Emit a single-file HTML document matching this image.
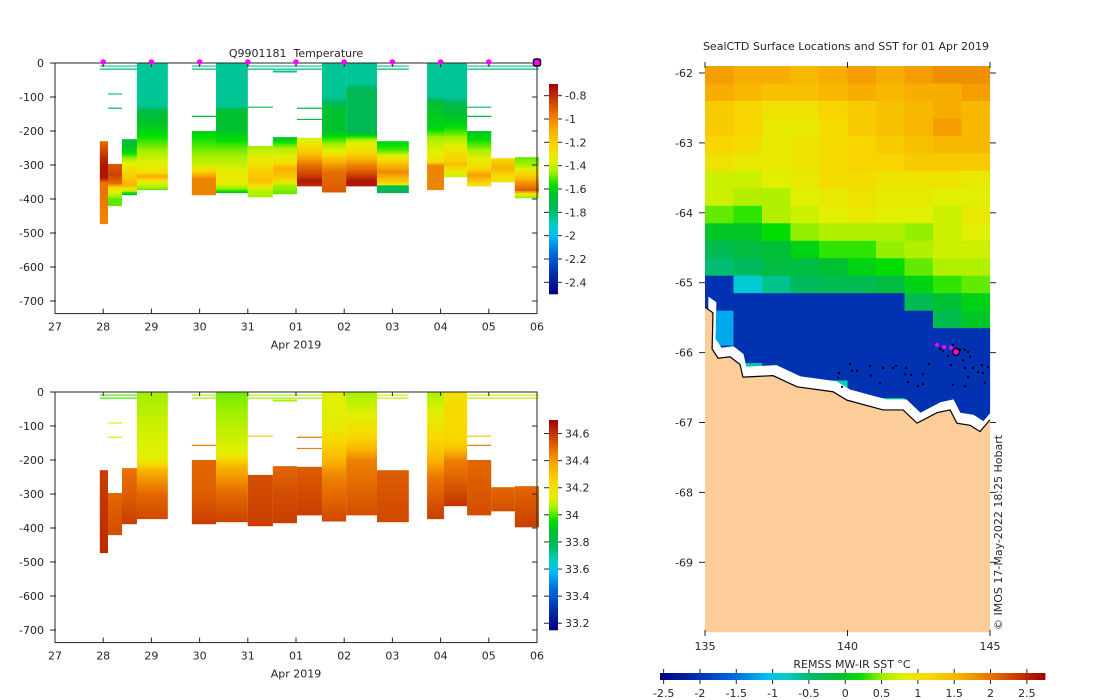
<!DOCTYPE html>
<html><head><meta charset="utf-8"><style>
body{margin:0;background:#fff;}
svg{display:block;font-family:"DejaVu Sans","Liberation Sans",sans-serif;}
text{fill:#262626;font-size:11px;}
</style></head><body>
<svg id="fig" width="1100" height="700" viewBox="0 0 1100 700" xmlns="http://www.w3.org/2000/svg"></svg>
<script>
// ---------- data ----------
const dayLabels=["27","28","29","30","31","01","02","03","04","05","06"];
const depthTicks=[0,100,200,300,400,500,600,700];
const tempTicks=[-0.8,-1,-1.2,-1.4,-1.6,-1.8,-2,-2.2,-2.4];
const salTicks=[34.6,34.4,34.2,34,33.8,33.6,33.4,33.2];
const sstTicks=[-2.5,-2,-1.5,-1,-0.5,0,0.5,1,1.5,2,2.5];
const profStart=[0.93,1.10,1.39,1.70,2.84,3.34,4.00,4.52,5.02,5.54,6.04,6.68,7.72,8.07,8.55,9.05,9.54];
const profEnd=[1.10,1.39,1.70,2.34,3.34,4.00,4.52,5.02,5.54,6.04,6.68,7.34,8.07,8.55,9.05,9.54,10.04];
const profTemp=[
[[230,-0.95],[260,-0.85],[300,-0.75],[340,-0.75],[350,-0.95],[473,-1.0]],
[[297,-0.9],[330,-0.85],[355,-0.95],[370,-1.3],[400,-1.5],[420,-1.5]],
[[224,-1.7],[260,-1.6],[290,-1.4],[320,-1.25],[360,-1.1],[380,-1.5],[388,-1.7]],
[[0,-1.85],[130,-1.85],[140,-1.7],[200,-1.6],[240,-1.5],[280,-1.4],[320,-1.3],[335,-1.05],[345,-1.3],[373,-1.5]],
[[200,-1.6],[250,-1.5],[300,-1.4],[320,-1.2],[340,-1.0],[388,-1.0]],
[[0,-1.85],[130,-1.85],[140,-1.65],[200,-1.65],[250,-1.5],[300,-1.4],[340,-1.3],[370,-1.45],[382,-1.65]],
[[244,-1.45],[280,-1.35],[320,-1.2],[350,-1.15],[370,-1.4],[394,-1.45]],
[[218,-1.65],[250,-1.45],[290,-1.3],[310,-1.1],[340,-1.2],[360,-1.45],[385,-1.5]],
[[220,-1.4],[260,-1.2],[300,-0.95],[330,-0.85],[345,-0.75],[362,-0.8]],
[[0,-1.85],[100,-1.85],[140,-1.65],[200,-1.65],[230,-1.5],[260,-1.35],[290,-1.1],[320,-0.95],[380,-0.9]],
[[0,-1.85],[60,-1.85],[80,-1.75],[200,-1.75],[230,-1.4],[270,-1.2],[300,-1.0],[330,-0.85],[345,-0.75],[362,-0.75]],
[[230,-1.6],[260,-1.5],[290,-1.2],[320,-1.0],[350,-1.2],[360,-1.4],[362,-1.75],[382,-1.75]],
[[0,-1.85],[100,-1.85],[120,-1.65],[190,-1.6],[220,-1.45],[290,-1.3],[300,-1.0],[373,-1.0]],
[[0,-1.85],[100,-1.85],[130,-1.7],[180,-1.6],[220,-1.45],[260,-1.3],[300,-1.15],[320,-1.35],[335,-1.4]],
[[200,-1.65],[230,-1.55],[270,-1.4],[310,-1.25],[330,-1.05],[362,-1.3]],
[[280,-1.25],[310,-1.1],[330,-1.25],[350,-1.3]],
[[277,-1.5],[300,-1.45],[320,-1.3],[350,-1.05],[375,-0.9],[385,-1.3],[397,-1.5]]];
const profSal=[
[[230,34.58],[473,34.62]],
[[297,34.5],[420,34.55]],
[[224,34.48],[300,34.52],[388,34.58]],
[[0,34.05],[100,34.1],[200,34.14],[230,34.35],[300,34.5],[373,34.56]],
[[200,34.5],[300,34.52],[388,34.58]],
[[0,34.02],[60,34.05],[180,34.13],[220,34.35],[300,34.5],[382,34.57]],
[[244,34.55],[394,34.58]],
[[218,34.5],[300,34.55],[385,34.58]],
[[220,34.52],[362,34.58]],
[[0,34.12],[100,34.15],[180,34.3],[250,34.45],[380,34.56]],
[[0,34.05],[60,34.12],[140,34.25],[200,34.45],[362,34.55]],
[[230,34.52],[382,34.56]],
[[0,34.06],[80,34.15],[180,34.3],[250,34.47],[373,34.58]],
[[0,34.2],[150,34.25],[200,34.45],[335,34.6]],
[[200,34.5],[362,34.55]],
[[280,34.5],[350,34.55]],
[[277,34.5],[397,34.58]]];
const segStart=[0.93,2.84,4.00,6.68,8.55,0.93,2.84,4.00,6.68,8.55,1.10,1.10,2.84,4.00,4.52,5.02,5.02,8.55,8.55];
const segEnd  =[1.70,3.34,5.54,7.34,10.04,1.70,3.34,5.54,7.34,10.04,1.39,1.39,3.34,4.52,5.02,5.54,5.54,9.05,9.05];
const segDepth=[9,9,9,9,9,18,18,18,18,18,91,133,157,130,25,133,166,130,157];
const segTemp=[-1.85,-1.85,-1.85,-1.85,-1.85,-1.8,-1.8,-1.8,-1.8,-1.8,-1.85,-1.75,-1.65,-1.7,-1.85,-1.7,-1.65,-1.75,-1.65];
const segSal=[34.0,34.05,34.05,34.1,34.1,34.0,34.05,34.05,34.1,34.1,34.15,34.15,34.45,34.3,34.05,34.45,34.45,34.3,34.45];
const markerDays=[1,2,3,4,5,6,7,8,9];
const sstRowTop=[-61.9,-62.15,-62.4,-62.65,-62.9,-63.15,-63.4,-63.65,-63.9,-64.15,-64.4,-64.65,-64.9,-65.15,-65.4,-65.65,-65.9,-66.15,-66.4,-66.65,-66.9,-67.15];
const sstColLon=[135,136,137,138,139,140,141,142,143,144];
const sstGrid=[
[1.7,1.6,1.6,1.5,1.6,1.7,1.6,1.7,1.8,1.8],
[1.6,1.5,1.4,1.4,1.5,1.6,1.5,1.6,1.6,1.7],
[1.3,1.2,1.0,1.0,1.2,1.3,1.4,1.5,1.6,1.5],
[1.3,1.2,0.9,0.9,1.1,1.3,1.4,1.5,1.7,1.5],
[1.2,1.1,0.9,1.0,1.1,1.2,1.3,1.4,1.5,1.5],
[1.0,0.9,0.9,1.0,1.1,1.2,1.2,1.3,1.3,1.3],
[0.7,0.7,0.8,0.9,1.1,1.1,1.0,1.0,1.0,0.9],
[0.7,0.6,0.6,0.8,0.9,1.0,0.9,0.9,0.8,0.8],
[0.4,0.3,0.6,0.7,0.8,0.9,0.8,0.8,0.7,0.9],
[0.0,0.0,0.2,0.5,0.6,0.6,0.6,0.5,0.7,0.8],
[-0.3,-0.2,-0.1,0.1,0.3,0.3,0.5,0.6,0.7,0.7],
[-0.5,-0.4,-0.2,-0.2,-0.1,0.1,0.2,0.4,0.6,0.6],
[-2.0,-0.9,-0.6,-0.4,-0.3,-0.3,-0.2,0.1,0.3,0.4],
[-2.0,-2.0,-2.0,-2.0,-2.0,-2.0,-2.0,-0.3,-0.1,0.1],
[-1.2,-2.0,-2.0,-2.0,-2.0,-2.0,-2.0,-2.0,-0.3,0.0],
[-1.2,-2.0,-2.0,-2.0,-2.0,-2.0,-2.0,-2.0,-2.0,-2.0],
[-2.0,-2.0,-2.0,-2.0,-2.0,-2.0,-2.0,-2.0,-2.0,-2.0],
[-2.0,-0.7,-2.0,-2.0,-2.0,-2.0,-2.0,-2.0,-2.0,-2.0],
[-2.0,-2.0,-2.0,-2.0,-0.8,-2.0,-2.0,-2.0,-2.0,-2.0],
[-2.0,-2.0,-2.0,-2.0,-2.0,-0.6,-0.7,-2.0,-2.0,-2.0],
[-2.0,-2.0,-2.0,-2.0,-2.0,-2.0,-2.0,-0.3,-0.5,-2.0],
[-2.0,-2.0,-2.0,-2.0,-2.0,-2.0,-2.0,-2.0,-0.4,-2.0]];
const latTicks=[-62,-63,-64,-65,-66,-67,-68,-69];
const lonTicks=[135,140,145];
const coastLon=[135.0,135.28,135.25,135.46,135.88,136.23,136.33,137.39,138.23,139.49,139.98,141.25,141.95,142.44,143.14,143.6,143.84,144.3,144.65,145.0];
const coastLat=[-65.35,-65.43,-65.95,-66.08,-66.06,-66.17,-66.35,-66.33,-66.49,-66.56,-66.68,-66.82,-66.82,-67.01,-66.86,-66.82,-67.01,-67.04,-67.13,-66.96];
const dotLon=[140.09,139.70,139.67,139.81,140.16,140.33,140.79,140.82,141.14,141.25,141.60,141.70,142.05,142.02,142.12,142.23,142.47,142.65,142.65,142.86,143.25,143.35,143.53,143.70,143.95,144.12,144.23,144.30,144.05,143.63,144.12,144.40,144.72,144.93,144.58,144.75,144.23,144.12,143.70,144.82];
const dotLat=[-66.16,-66.29,-66.36,-66.49,-66.26,-66.26,-66.19,-66.33,-66.43,-66.22,-66.22,-66.19,-66.22,-66.31,-66.42,-66.32,-66.48,-66.45,-66.31,-66.16,-65.95,-65.98,-66.05,-65.89,-65.96,-65.96,-65.99,-66.06,-66.11,-66.18,-66.22,-66.22,-66.18,-66.21,-66.28,-66.29,-66.35,-66.48,-66.46,-66.43];
const trackLon=[143.14,143.39,143.63,143.81];
const trackLat=[-65.89,-65.92,-65.93,-65.99];

// ---------- scales ----------
const svg=document.getElementById('fig');
const NS='http://www.w3.org/2000/svg';
const xd=d=>55+d*48.2;
const yT=z=>63+z*0.34;
const yB=z=>392+z*0.34;
const TMIN=-2.5,TMAX=-0.7,SMIN=33.15,SMAX=34.7,MMIN=-2.55,MMAX=2.75;
const lonX=l=>705+(l-135)*28.5;
const latY=l=>73+(-62-l)*69.9;
const cmStops=[[0,'#000080'],[0.10,'#0030b0'],[0.20,'#0070e0'],[0.28,'#00c0f0'],[0.33,'#00d0c0'],[0.40,'#00b860'],[0.47,'#00c030'],[0.52,'#00e000'],[0.58,'#a0f000'],[0.63,'#e0f000'],[0.70,'#f8d800'],[0.78,'#f8b000'],[0.86,'#e87000'],[0.94,'#c03000'],[1,'#a00000']];
function hex(h){return [parseInt(h.substr(1,2),16),parseInt(h.substr(3,2),16),parseInt(h.substr(5,2),16)];}
function cmap(t){t=Math.max(0,Math.min(1,t));for(let i=1;i<cmStops.length;i++){if(t<=cmStops[i][0]){const a=cmStops[i-1],b=cmStops[i];const f=(t-a[0])/(b[0]-a[0]);const A=hex(a[1]),B=hex(b[1]);return 'rgb('+A.map((v,k)=>Math.round(v+(B[k]-v)*f)).join(',')+')';}}return cmStops[cmStops.length-1][1];}
function interp(stops,z){if(z<=stops[0][0])return stops[0][1];for(let i=1;i<stops.length;i++){if(z<=stops[i][0]){const a=stops[i-1],b=stops[i];return a[1]+(b[1]-a[1])*(z-a[0])/(b[0]-a[0]);}}return stops[stops.length-1][1];}
function el(tag,parent){const e=document.createElementNS(NS,tag);(parent||svg).appendChild(e);return e;}
function grp(parent){return el('g',parent);}

// ---------- depth-time panels ----------
function panel(yS,profs,vmin,vmax,segVals,title,top,cbTicks,cbName,isTemp){
  const g=grp();
  
  
  for(let p=0;p<profStart.length;p++){
    const st=profs[p];const z0=st[0][0],z1=st[st.length-1][0];
    const pg=grp(g);
    
    
    for(let z=z0;z<z1;z+=5){
      const r=el('rect',pg);
      r.setAttribute('x',xd(profStart[p]));r.setAttribute('width',xd(profEnd[p])-xd(profStart[p]));
      r.setAttribute('y',yS(z));r.setAttribute('height',yS(Math.min(z+5,z1))-yS(z)+0.3);
      r.setAttribute('fill',cmap((interp(st,z+2.5)-vmin)/(vmax-vmin)));
    }
  }
  for(let s=0;s<segStart.length;s++){
    const l=el('line',g);
    
    
    l.setAttribute('x1',xd(segStart[s]));l.setAttribute('x2',xd(segEnd[s]));
    l.setAttribute('y1',yS(segDepth[s]));l.setAttribute('y2',yS(segDepth[s]));
    l.setAttribute('stroke',cmap((segVals[s]-vmin)/(vmax-vmin)));l.setAttribute('stroke-width',segDepth[s]==25?2:1.2);
  }
  const fr=el('rect',g);
  
  
  fr.setAttribute('x',55);fr.setAttribute('y',yS(0));fr.setAttribute('width',482);fr.setAttribute('height',yS(737)-yS(0));
  fr.setAttribute('fill','none');fr.setAttribute('stroke','#262626');fr.setAttribute('stroke-width',1);
  depthTicks.forEach(d=>{
    const t=el('line',g);t.setAttribute('x1',50);t.setAttribute('x2',56);t.setAttribute('y1',yS(d));t.setAttribute('y2',yS(d));t.setAttribute('stroke','#262626');
    const t2=el('line',g);t2.setAttribute('x1',532);t2.setAttribute('x2',537);t2.setAttribute('y1',yS(d));t2.setAttribute('y2',yS(d));t2.setAttribute('stroke','#262626');
    const tx=el('text',g);
    
    
    tx.setAttribute('x',44);tx.setAttribute('y',yS(d)+4);tx.setAttribute('text-anchor','end');tx.textContent=d==0?'0':'-'+d;
  });
  dayLabels.forEach((lab,i)=>{
    const t=el('line',g);t.setAttribute('x1',xd(i));t.setAttribute('x2',xd(i));t.setAttribute('y1',yS(737));t.setAttribute('y2',yS(737)-5);t.setAttribute('stroke','#262626');
    const t2=el('line',g);t2.setAttribute('x1',xd(i));t2.setAttribute('x2',xd(i));t2.setAttribute('y1',yS(0));t2.setAttribute('y2',yS(0)+4);t2.setAttribute('stroke','#262626');
    const tx=el('text',g);
    
    
    tx.setAttribute('x',xd(i));tx.setAttribute('y',yS(737)+17);tx.setAttribute('text-anchor','middle');tx.textContent=lab;
  });
  const xl=el('text',g);
  
  
  xl.setAttribute('x',296);xl.setAttribute('y',yS(737)+35);xl.setAttribute('text-anchor','middle');xl.textContent='Apr 2019';
  if(title){const tt=el('text',g);
    
    
    tt.setAttribute('x',296);tt.setAttribute('y',57);tt.setAttribute('text-anchor','middle');tt.textContent=title;}
  // colorbar
  const cb=grp(g);
  
  
  const cbTop=top,cbBot=top+210;
  for(let i=0;i<105;i++){const r=el('rect',cb);r.setAttribute('x',549);r.setAttribute('width',9);r.setAttribute('y',cbTop+i*2);r.setAttribute('height',2.3);r.setAttribute('fill',cmap(1-(i+0.5)/105));}
  cbTicks.forEach(v=>{const y=cbBot-(v-vmin)/(vmax-vmin)*210;
    const t=el('line',cb);t.setAttribute('x1',544);t.setAttribute('x2',549);t.setAttribute('y1',y);t.setAttribute('y2',y);t.setAttribute('stroke','#262626');
    const t2=el('line',cb);t2.setAttribute('x1',558);t2.setAttribute('x2',562);t2.setAttribute('y1',y);t2.setAttribute('y2',y);t2.setAttribute('stroke','#262626');
    const tx=el('text',cb);
    
    
    tx.setAttribute('x',565);tx.setAttribute('y',y+4);tx.textContent=String(v);});
}
panel(yT,profTemp,TMIN,TMAX,segTemp,'Q9901181\u00a0 Temperature',84,tempTicks,'temperature-colorbar',true);
panel(yB,profSal,SMIN,SMAX,segSal,'',420,salTicks,'salinity-colorbar',false);
markerDays.forEach(d=>{const c=el('circle');
  
  
  c.setAttribute('cx',xd(d));c.setAttribute('cy',62);c.setAttribute('r',2.8);c.setAttribute('fill','#ff00ff');});
const lastM=el('rect');


lastM.setAttribute('x',xd(10)-3.5);lastM.setAttribute('y',59);lastM.setAttribute('width',7);lastM.setAttribute('height',7);lastM.setAttribute('rx',2);lastM.setAttribute('fill','#ff00ff');lastM.setAttribute('stroke','#000');lastM.setAttribute('stroke-width',1.5);

// ---------- map ----------
const mg=grp();


sstGrid.forEach((row,i)=>{row.forEach((v,j)=>{const r=el('rect',mg);
  r.setAttribute('x',lonX(sstColLon[j]));r.setAttribute('width',28.6);
  r.setAttribute('y',latY(sstRowTop[i]));r.setAttribute('height',0.25*69.9+0.3);
  r.setAttribute('fill',cmap((v-MMIN)/(MMAX-MMIN)));});});
function coastPts(dLat,dLon){let s=coastLon.map((l,i)=>lonX(l+dLon)+','+latY(coastLat[i]+dLat)).join(' ');return s+' '+lonX(145)+','+latY(-70)+' '+lonX(135)+','+latY(-70);}
const ice=el('polygon',mg);


ice.setAttribute('points',coastPts(0.15,0.12));ice.setAttribute('fill','#ffffff');
const land=el('polygon',mg);


land.setAttribute('points',coastPts(0,0));land.setAttribute('fill','#fccc99');
const cl=el('polyline',mg);


cl.setAttribute('points',coastLon.map((l,i)=>lonX(l)+','+latY(coastLat[i])).join(' '));cl.setAttribute('fill','none');cl.setAttribute('stroke','#000');cl.setAttribute('stroke-width',1.2);
dotLon.forEach((l,i)=>{const c=el('rect',mg);
  
  
  c.setAttribute('x',lonX(l)-1);c.setAttribute('y',latY(dotLat[i])-1);c.setAttribute('width',2);c.setAttribute('height',2);c.setAttribute('fill','#000');});
trackLon.forEach((l,i)=>{const c=el('circle',mg);
  
  
  const last=i==trackLon.length-1;
  c.setAttribute('cx',lonX(l));c.setAttribute('cy',latY(trackLat[i]));c.setAttribute('r',last?3.5:2);c.setAttribute('fill','#ff00ff');
  if(last){c.setAttribute('stroke','#000');c.setAttribute('stroke-width',1.5);}});
latTicks.forEach(v=>{const y=latY(v);
  const a=el('line',mg);a.setAttribute('x1',699);a.setAttribute('x2',705);a.setAttribute('y1',y);a.setAttribute('y2',y);a.setAttribute('stroke','#262626');
  const b=el('line',mg);b.setAttribute('x1',990);b.setAttribute('x2',996);b.setAttribute('y1',y);b.setAttribute('y2',y);b.setAttribute('stroke','#262626');
  const t=el('text',mg);
  
  
  t.setAttribute('x',693);t.setAttribute('y',y+4);t.setAttribute('text-anchor','end');t.textContent=String(v);});
lonTicks.forEach(v=>{const x=lonX(v);
  const a=el('line',mg);a.setAttribute('x1',x);a.setAttribute('x2',x);a.setAttribute('y1',630);a.setAttribute('y2',636);a.setAttribute('stroke','#262626');
  const b=el('line',mg);b.setAttribute('x1',x);b.setAttribute('x2',x);b.setAttribute('y1',62);b.setAttribute('y2',68);b.setAttribute('stroke','#262626');
  const t=el('text',mg);
  
  
  t.setAttribute('x',x);t.setAttribute('y',650);t.setAttribute('text-anchor','middle');t.textContent=String(v);});
const mt=el('text');


mt.setAttribute('x',846);mt.setAttribute('y',50);mt.setAttribute('text-anchor','middle');mt.textContent='SealCTD Surface Locations and SST for 01 Apr 2019';
const cr=el('text');


cr.setAttribute('transform','translate(1002,630) rotate(-90)');cr.setAttribute('font-size','10');cr.textContent='© IMOS 17-May-2022 18:25 Hobart';
// horizontal colorbar
const hb=grp();


const hx=v=>660+(v-MMIN)/(MMAX-MMIN)*385;
for(let i=0;i<96;i++){const r=el('rect',hb);r.setAttribute('x',660+i*385/96);r.setAttribute('width',385/96+0.4);r.setAttribute('y',673);r.setAttribute('height',7);r.setAttribute('fill',cmap((i+0.5)/96));}
sstTicks.forEach(v=>{const x=hx(v);
  const a=el('line',hb);a.setAttribute('x1',x);a.setAttribute('x2',x);a.setAttribute('y1',680);a.setAttribute('y2',684);a.setAttribute('stroke','#262626');
  const b=el('line',hb);b.setAttribute('x1',x);b.setAttribute('x2',x);b.setAttribute('y1',669);b.setAttribute('y2',673);b.setAttribute('stroke','#262626');
  const t=el('text',hb);
  
  
  t.setAttribute('x',x);t.setAttribute('y',697);t.setAttribute('text-anchor','middle');t.textContent=String(v);});
const ht=el('text',hb);


ht.setAttribute('x',852);ht.setAttribute('y',668);ht.setAttribute('text-anchor','middle');ht.textContent='REMSS MW-IR SST °C';
</script>
</body></html>
